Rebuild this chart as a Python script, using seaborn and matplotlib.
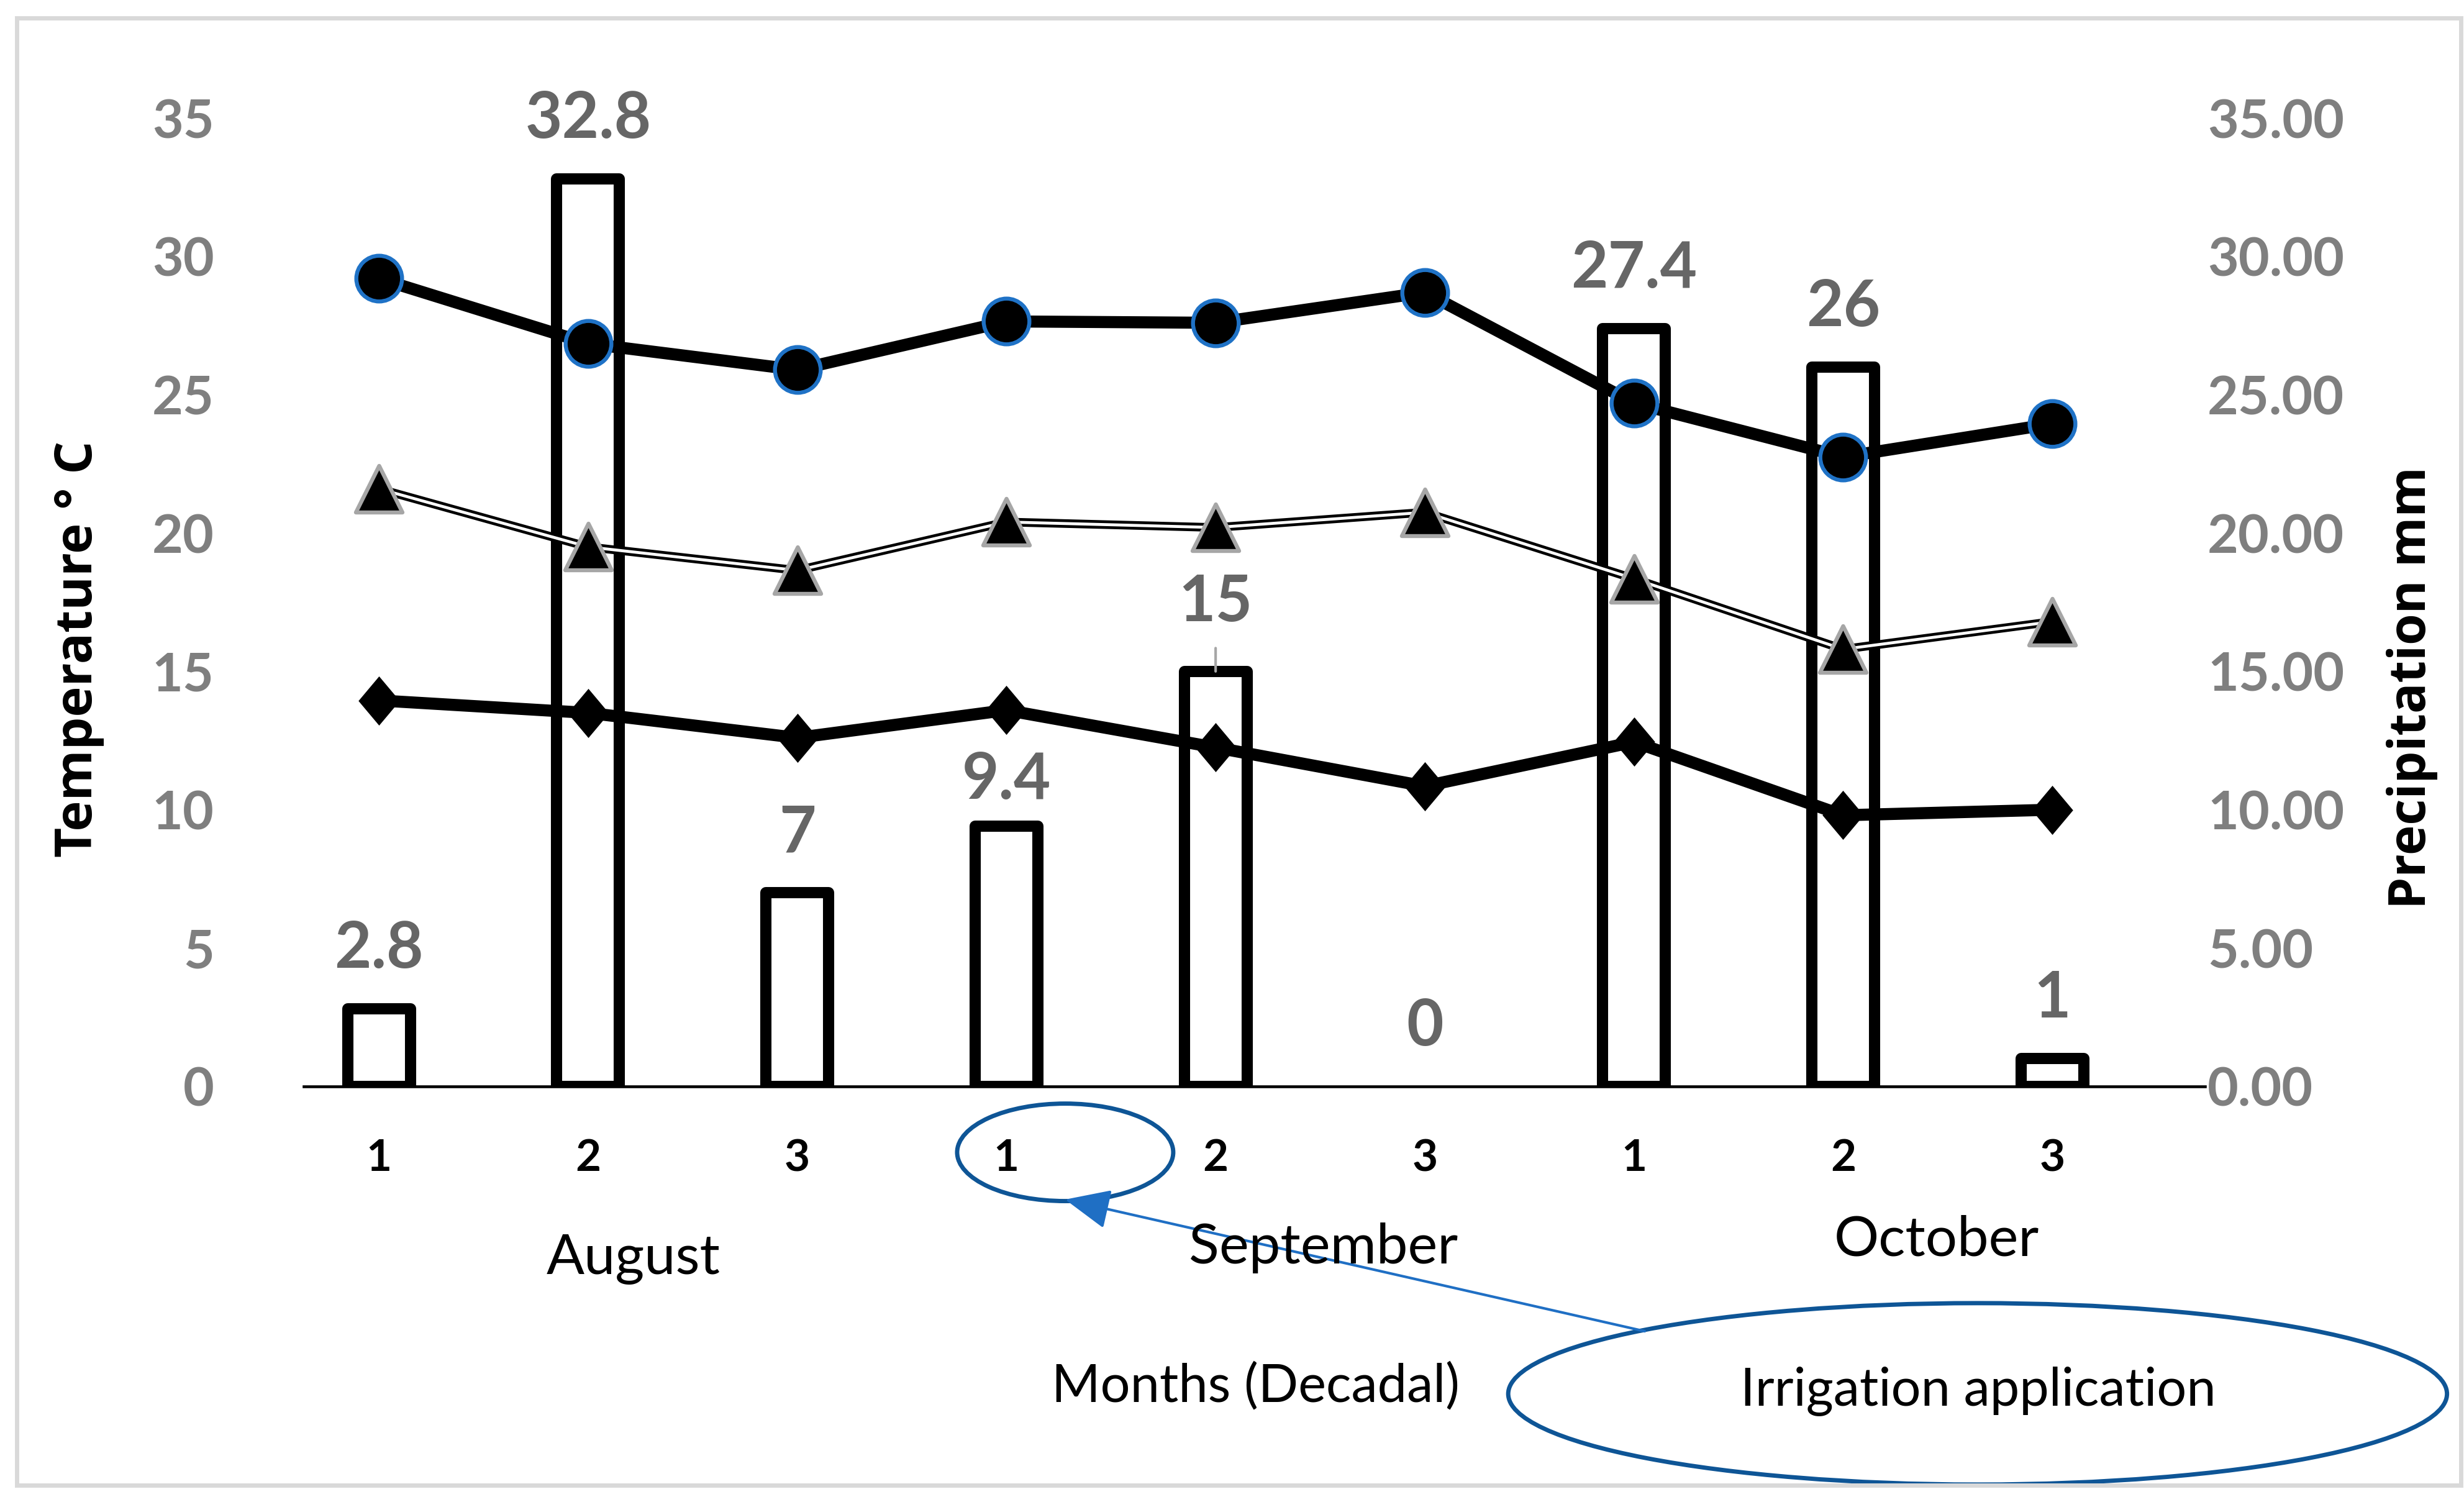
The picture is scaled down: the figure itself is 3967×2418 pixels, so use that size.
import numpy as np
import pandas as pd
import matplotlib
matplotlib.use("Agg")
import matplotlib.pyplot as plt
from matplotlib.patches import Ellipse, Rectangle, FancyArrowPatch
from matplotlib.ticker import FixedLocator, FuncFormatter
import seaborn as sns

# ---------------- data ----------------
months = ["August", "September", "October"]
decades = ["1", "2", "3", "1", "2", "3", "1", "2", "3"]
period_ids = ["Aug-1", "Aug-2", "Aug-3", "Sep-1", "Sep-2", "Sep-3", "Oct-1", "Oct-2", "Oct-3"]
precip_mm = [2.8, 32.8, 7, 9.4, 15, 0, 27.4, 26, 1]
t_max = [29.2, 26.85, 25.9, 27.65, 27.6, 28.7, 24.7, 22.75, 23.95]
t_mean = [21.6, 19.5, 18.65, 20.4, 20.2, 20.75, 18.35, 15.8, 16.8]
t_min = [13.95, 13.5, 12.6, 13.6, 12.25, 10.85, 12.45, 9.8, 10.0]
temp_ticks = [0, 5, 10, 15, 20, 25, 30, 35]

df = pd.DataFrame({"period": period_ids, "pos": np.arange(len(period_ids)),
                   "precip": precip_mm, "tmax": t_max, "tmean": t_mean, "tmin": t_min})

# ---------------- style ----------------
sns.set_theme(style="white")
plt.rcParams["font.family"] = ["Lato", "DejaVu Sans"]

fig = plt.figure(figsize=(39.67, 24.18), dpi=100)
ax = fig.add_axes([0.1233, 0.2767, 0.7716, 0.6447])
ax2 = ax.twinx()
ax.set_zorder(ax2.get_zorder() + 1)
ax.patch.set_visible(False)

# ---------------- bars (precipitation, right axis) ----------------
sns.barplot(data=df, x="period", y="precip", ax=ax2, color="white",
            edgecolor="black", linewidth=13, width=0.30, saturation=1)
for p, v in zip(ax2.patches, precip_mm):
    p.set_joinstyle("round")
    if v == 0:
        p.set_linewidth(0)

label_offsets = {3: 31.7, 4: 58}
for i, v in enumerate(precip_mm):
    off = label_offsets.get(i, 47.5)
    ax2.annotate(f"{v:g}", xy=(i, v), xytext=(0, off), textcoords="offset points",
                 ha="center", va="baseline", fontsize=74, fontweight="bold",
                 color="#666666", family=["Lato", "DejaVu Sans"], annotation_clip=False)
# leader line for the label "15"
ax2.annotate("", xy=(4, precip_mm[4]), xytext=(0, 27), textcoords="offset points",
             arrowprops=dict(arrowstyle="-", color="#a6a6a6", lw=3, shrinkA=0, shrinkB=0),
             annotation_clip=False)

# ---------------- lines (temperature, left axis) ----------------
sns.lineplot(data=df, x="pos", y="tmax", ax=ax, color="black", linewidth=14,
             marker="o", markersize=53, markerfacecolor="black",
             markeredgecolor="#1f72c6", markeredgewidth=4.6)

sns.lineplot(data=df, x="pos", y="tmean", ax=ax, color="black", linewidth=10)
sns.lineplot(data=df, x="pos", y="tmean", ax=ax, color="white", linewidth=3.4)
sns.scatterplot(data=df, x="pos", y="tmean", ax=ax, marker="^", s=54 ** 2,
                color="black", edgecolor="#a6a6a6", linewidth=4.6, zorder=5)

diamond = [(0, 1), (0.84, 0), (0, -1), (-0.84, 0), (0, 1)]
sns.lineplot(data=df, x="pos", y="tmin", ax=ax, color="black", linewidth=14,
             marker=diamond, markersize=57, markerfacecolor="black",
             markeredgecolor="black", markeredgewidth=0)

# ---------------- axes formatting ----------------
for a in (ax, ax2):
    a.set_ylim(0, 35)
    a.set_xlim(-0.359, 8.73)
    a.set_xlabel("")
    a.set_ylabel("")
    for s in a.spines.values():
        s.set_visible(False)
    a.grid(False)

ax.spines["bottom"].set_visible(True)
ax.spines["bottom"].set_color("black")
ax.spines["bottom"].set_linewidth(3.3)

ax.yaxis.set_major_locator(FixedLocator(temp_ticks))
ax.yaxis.set_major_formatter(FuncFormatter(lambda v, p: f"{v:.0f}"))
ax.tick_params(axis="y", length=0, pad=104, labelsize=62, labelcolor="#7f7f7f")
for lab in ax.get_yticklabels():
    lab.set_fontweight("bold")

ax2.yaxis.set_major_locator(FixedLocator(temp_ticks))
ax2.yaxis.set_major_formatter(FuncFormatter(lambda v, p: f"{v:.2f}"))
ax2.tick_params(axis="y", length=0, pad=3, labelsize=62, labelcolor="#7f7f7f")
for lab in ax2.get_yticklabels():
    lab.set_fontweight("bold")

ax.set_xticks(np.arange(len(decades)))
ax.set_xticklabels(decades)
ax.tick_params(axis="x", length=0, pad=60, labelsize=51, labelcolor="black")
for lab in ax.get_xticklabels():
    lab.set_fontweight("bold")

# ---------------- texts ----------------
fig.text(0.032, 0.568, "Temperature ° C", rotation=90, ha="center", va="center",
         fontsize=60, fontweight="bold", color="black", family=["Open Sans", "DejaVu Sans"])
fig.text(0.979, 0.542, "Precipitation mm", rotation=90, ha="center", va="center",
         fontsize=59, fontweight="bold", color="black", family=["Open Sans", "DejaVu Sans"])

month_x = [0.257, 0.537, 0.786]
month_y = [0.1518, 0.1588, 0.164]
for m, x, y in zip(months, month_x, month_y):
    fig.text(x, y, m, ha="center", va="baseline", fontsize=65, color="black")

fig.text(0.5095, 0.067, "Months (Decadal)", ha="center", va="baseline", fontsize=61, color="black")

# irrigation callout
fig.patches.append(Ellipse((0.8026, 0.072), 0.381, 0.1208, transform=fig.transFigure,
                           fill=False, edgecolor="#0e5596", linewidth=5))
fig.text(0.8029, 0.0645, "Irrigation application", ha="center", va="baseline",
         fontsize=61, color="black")
fig.patches.append(Ellipse((0.4323, 0.2328), 0.0877, 0.0649, transform=fig.transFigure,
                           fill=False, edgecolor="#0e5596", linewidth=5))
fig.patches.append(FancyArrowPatch((0.6675, 0.1137), (0.4323, 0.2014), transform=fig.transFigure,
                                   arrowstyle="-|>,head_length=1.8,head_width=0.8",
                                   mutation_scale=25, color="#1f6fc4", linewidth=3,
                                   shrinkA=0, shrinkB=0))

# outer border
fig.patches.append(Rectangle((0.0068, 0.0112), 0.9919, 0.9768, transform=fig.transFigure,
                             fill=False, edgecolor="#d9d9d9", linewidth=5))

fig.savefig("out.png", dpi=100)
